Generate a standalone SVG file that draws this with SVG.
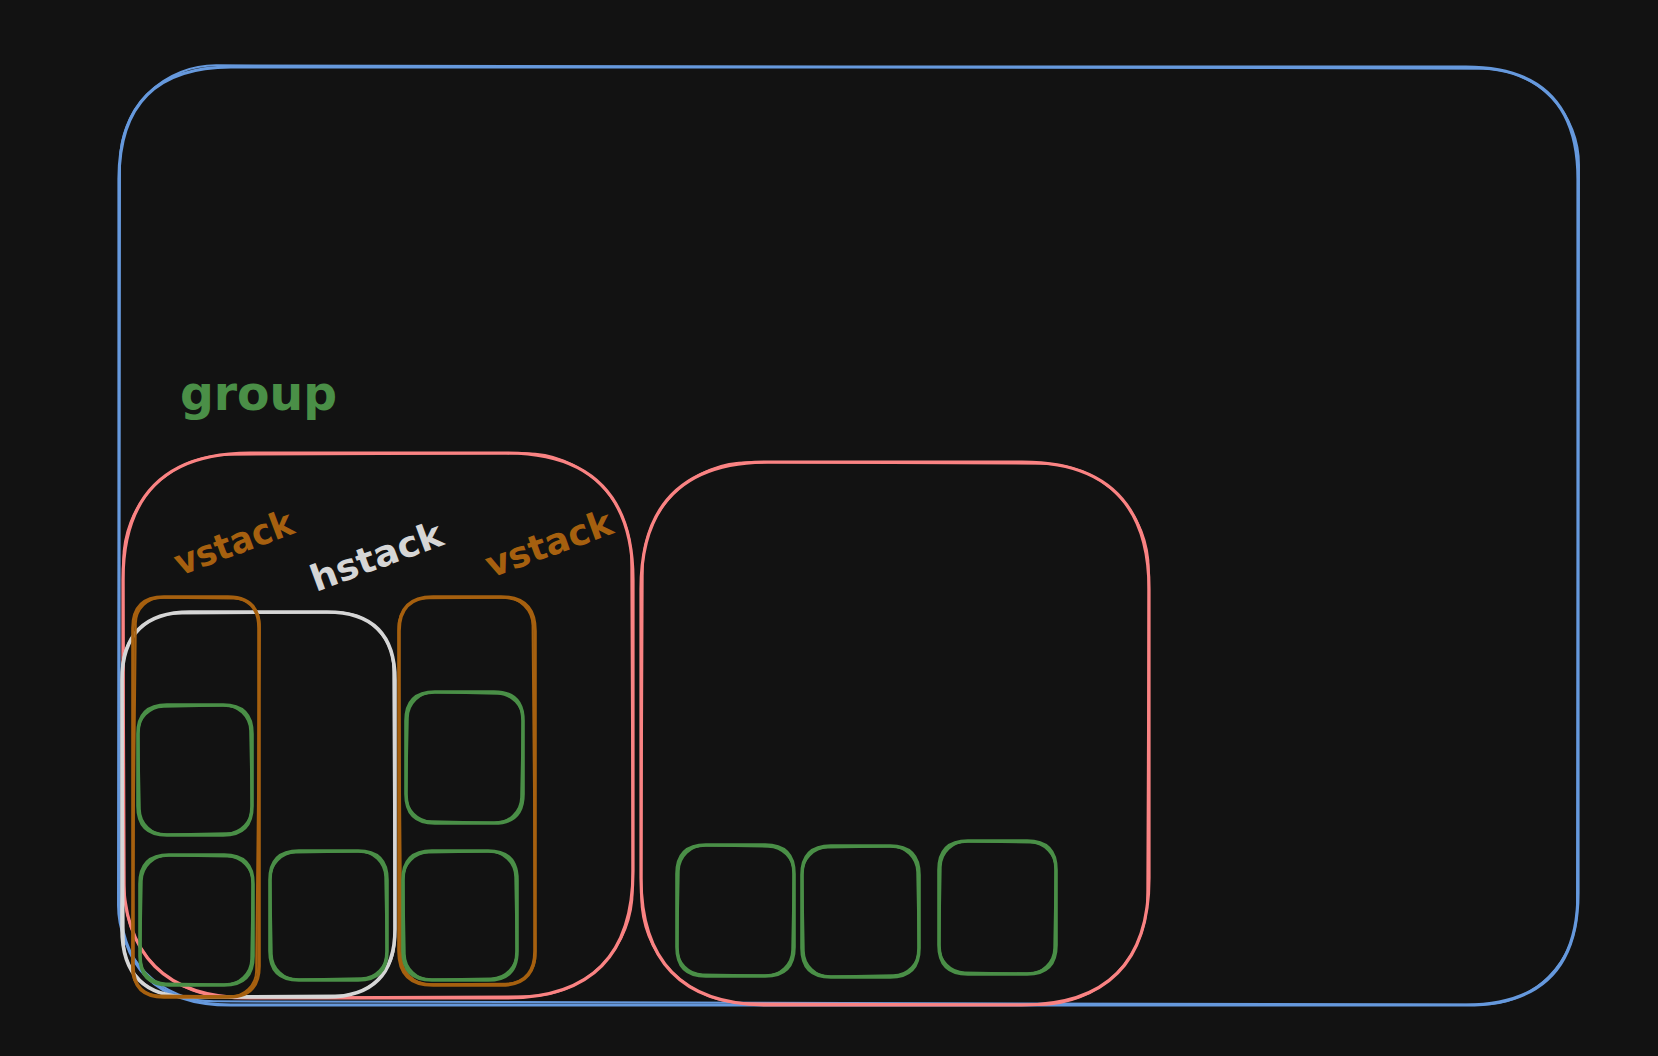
<svg xmlns="http://www.w3.org/2000/svg" width="1658" height="1056" viewBox="0 0 1658 1056">
<style>
.s{fill:none;stroke-linecap:round;stroke-linejoin:round}
.blue{stroke:#6699dd}
.red{stroke:#fa8383}
.white{stroke:#d6d6d6}
.orange{stroke:#a6600f}
.green{stroke:#4a8f47}
.w1{stroke-width:3.2}
.w2{stroke-width:2}
.w3{stroke-width:3.6}
.lbl{font-family:"DejaVu Sans","Noto Sans",sans-serif;font-weight:bold}
</style>
<rect x="0" y="0" width="1658" height="1056" fill="#121212"/>

<g id="outer">
<path class="s blue w1" d="M231 67 L1466 67 Q1578 67 1578 179 L1578 893 Q1578 1005 1466 1005 L231 1005 Q119 1005 119 893 L119 179 Q119 67 231 67 Z"/>
<rect class="s blue w2" x="119" y="67" width="1459" height="936" rx="96" transform="rotate(0.15 848 536)"/>
</g>

<g id="group1">
<path class="s red w1" d="M250 453 L506 453 Q633 453 633 580 L633 871 Q633 998 506 998 L250 998 Q123 998 123 871 L123 580 Q123 453 250 453 Z"/>
<rect class="s red w2" x="124" y="454" width="508" height="543" rx="106" transform="rotate(-0.25 378 725)"/>
</g>

<g id="group2">
<path class="s red w1" d="M768 462 L1022 462 Q1149 462 1149 589 L1149 878 Q1149 1005 1022 1005 L768 1005 Q641 1005 641 878 L641 589 Q641 462 768 462 Z"/>
<rect class="s red w2" x="642" y="463" width="506" height="541" rx="106" transform="rotate(0.25 895 733)"/>
</g>

<g id="hstack">
<path class="s white w3" d="M190 612 L327 612 Q395 612 395 680 L395 929 Q395 997 327 997 L190 997 Q122 997 122 929 L122 680 Q122 612 190 612 Z"/>
<rect class="s white w2" x="123" y="613" width="271" height="383" rx="56" transform="rotate(-0.3 258 805)"/>
</g>

<g id="vstack1">
<path class="s orange w3" d="M164 597 L228 597 Q259 597 259 628 L259 966 Q259 997 228 997 L164 997 Q133 997 133 966 L133 628 Q133 597 164 597 Z"/>
<rect class="s orange w2" x="134" y="598" width="124" height="398" rx="26" transform="rotate(0.6 196 796)"/>
</g>

<g id="vstack2">
<path class="s orange w3" d="M433 597 L501 597 Q535 597 535 631 L535 951 Q535 985 501 985 L433 985 Q399 985 399 951 L399 631 Q399 597 433 597 Z"/>
<rect class="s orange w2" x="400" y="598" width="134" height="386" rx="28" transform="rotate(-0.5 467 791)"/>
</g>

<g id="box1">
<path class="s green w3" d="M167 705 L223 705 Q252 705 252 734 L252 806 Q252 835 223 835 L167 835 Q138 835 138 806 L138 734 Q138 705 167 705 Z"/>
<rect class="s green w2" x="139" y="706" width="112" height="128" rx="26" transform="rotate(-1.2 195 770)"/>
</g>
<g id="box2">
<path class="s green w3" d="M169 855 L224 855 Q253 855 253 884 L253 956 Q253 985 224 985 L169 985 Q140 985 140 956 L140 884 Q140 855 169 855 Z"/>
<rect class="s green w2" x="141" y="856" width="111" height="128" rx="26" transform="rotate(1.1 196 920)"/>
</g>
<g id="box3">
<path class="s green w3" d="M299 851 L358 851 Q387 851 387 880 L387 951 Q387 980 358 980 L299 980 Q270 980 270 951 L270 880 Q270 851 299 851 Z"/>
<rect class="s green w2" x="271" y="852" width="115" height="127" rx="26" transform="rotate(-1.1 328 915)"/>
</g>
<g id="box4">
<path class="s green w3" d="M435 692 L494 692 Q523 692 523 721 L523 794 Q523 823 494 823 L435 823 Q406 823 406 794 L406 721 Q406 692 435 692 Z"/>
<rect class="s green w2" x="407" y="693" width="115" height="129" rx="26" transform="rotate(1.2 464 757)"/>
</g>
<g id="box5">
<path class="s green w3" d="M432 851 L488 851 Q517 851 517 880 L517 951 Q517 980 488 980 L432 980 Q403 980 403 951 L403 880 Q403 851 432 851 Z"/>
<rect class="s green w2" x="404" y="852" width="112" height="127" rx="26" transform="rotate(-1.1 460 915)"/>
</g>
<g id="box6">
<path class="s green w3" d="M706 845 L765 845 Q794 845 794 874 L794 947 Q794 976 765 976 L706 976 Q677 976 677 947 L677 874 Q677 845 706 845 Z"/>
<rect class="s green w2" x="678" y="846" width="115" height="129" rx="26" transform="rotate(1.1 735 910)"/>
</g>
<g id="box7">
<path class="s green w3" d="M831 846 L890 846 Q919 846 919 875 L919 948 Q919 977 890 977 L831 977 Q802 977 802 948 L802 875 Q802 846 831 846 Z"/>
<rect class="s green w2" x="803" y="847" width="115" height="129" rx="26" transform="rotate(-1.1 860 911)"/>
</g>
<g id="box8">
<path class="s green w3" d="M968 841 L1027 841 Q1056 841 1056 870 L1056 945 Q1056 974 1027 974 L968 974 Q939 974 939 945 L939 870 Q939 841 968 841 Z"/>
<rect class="s green w2" x="940" y="842" width="115" height="131" rx="26" transform="rotate(1 997 907)"/>
</g>

<g id="label-group">
<text class="lbl" x="180" y="410" font-size="48" fill="#4a8f47" textLength="157" lengthAdjust="spacingAndGlyphs">group</text>
</g>
<g id="label-vstack1">
<text class="lbl" x="0" y="0" font-size="36" fill="#a6600f" textLength="124" lengthAdjust="spacingAndGlyphs" transform="translate(180 576) rotate(-20.5)">vstack</text>
</g>
<g id="label-hstack">
<text class="lbl" x="0" y="0" font-size="36" fill="#d6d6d6" textLength="138" lengthAdjust="spacingAndGlyphs" transform="translate(316 592) rotate(-20.3)">hstack</text>
</g>
<g id="label-vstack2">
<text class="lbl" x="0" y="0" font-size="36" fill="#a6600f" textLength="132" lengthAdjust="spacingAndGlyphs" transform="translate(491 578) rotate(-20)">vstack</text>
</g>
</svg>
